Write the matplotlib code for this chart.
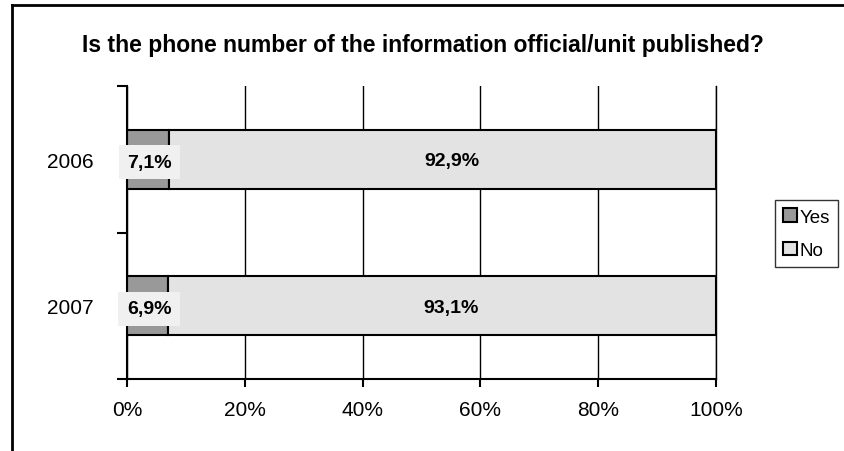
import matplotlib.pyplot as plt
from matplotlib.lines import Line2D
import numpy as np

plt.rcParams['font.family'] = ['Liberation Sans', 'DejaVu Sans']

years = ['2006', '2007']
yes_vals = [7.1, 6.9]
no_vals = [92.9, 93.1]
xticks = [0, 20, 40, 60, 80, 100]


def fmt(v):
    return ('%.1f%%' % v).replace('.', ',')


fig = plt.figure(figsize=(8.45, 4.52), dpi=100)
ax = fig.add_axes([0.1503, 0.1593, 0.697, 0.6482])

y = np.arange(len(years))
b1 = ax.barh(y, yes_vals, height=0.4, color='#999999', edgecolor='black', lw=1.5,
             label='Yes', zorder=3)
b2 = ax.barh(y, no_vals, left=yes_vals, height=0.4, color='#e3e3e3', edgecolor='black',
             lw=1.5, label='No', zorder=3)

# data labels
for i in range(len(years)):
    ax.text(yes_vals[i] / 2 + 0.3, y[i] + 0.02, fmt(yes_vals[i]), ha='center', va='center',
            fontsize=14, fontweight='bold', zorder=5,
            bbox=dict(facecolor='#f0f0f0', edgecolor='none', pad=6))
    ax.text(yes_vals[i] + no_vals[i] / 2 + 1.6, y[i] + 0.01, fmt(no_vals[i]), ha='center',
            va='center', fontsize=14, fontweight='bold', zorder=5)

ax.set_xlim(0, 100)
ax.set_ylim(1.5, -0.5)
ax.set_xticks(xticks)
ax.set_xticklabels(['%d%%' % t for t in xticks], fontsize=15)
ax.set_yticks(y)
ax.set_yticklabels(years, fontsize=15)
ax.set_yticks([-0.5, 0.5, 1.5], minor=True)
ax.tick_params(axis='y', which='major', length=0, pad=24)
ax.tick_params(axis='y', which='minor', length=7, width=1.5, direction='out')
ax.tick_params(axis='x', length=6, width=1.5, direction='out', pad=9)
ax.grid(axis='x', color='black', lw=1, zorder=1)
ax.spines['top'].set_visible(False)
ax.spines['right'].set_linewidth(1)
for s in ['left', 'bottom']:
    ax.spines[s].set_linewidth(1.5)
    ax.spines[s].set_zorder(4)

fig.text(0.5, 0.9, 'Is the phone number of the information official/unit published?',
         ha='center', va='center', fontsize=16.5, fontweight='bold')

leg = fig.legend(handles=[b1, b2], labels=['Yes', 'No'], loc='upper left',
                 bbox_to_anchor=(775 / 845, 1 - 201 / 452), fontsize=13.5,
                 frameon=True, fancybox=False, edgecolor='black', handlelength=0.7,
                 handleheight=0.7, handletextpad=0.15, borderpad=0.45, labelspacing=0.85,
                 borderaxespad=0)
leg.get_frame().set_linewidth(1)

# outer chart frame (only left and top edges visible)
fig.add_artist(Line2D([12 / 845, 12 / 845], [0, 1 - 6 / 452], color='black', lw=2,
                      transform=fig.transFigure))
fig.add_artist(Line2D([12 / 845, 1], [1 - 6 / 452, 1 - 6 / 452], color='black', lw=2,
                      transform=fig.transFigure))

fig.savefig('out.png', dpi=100)
